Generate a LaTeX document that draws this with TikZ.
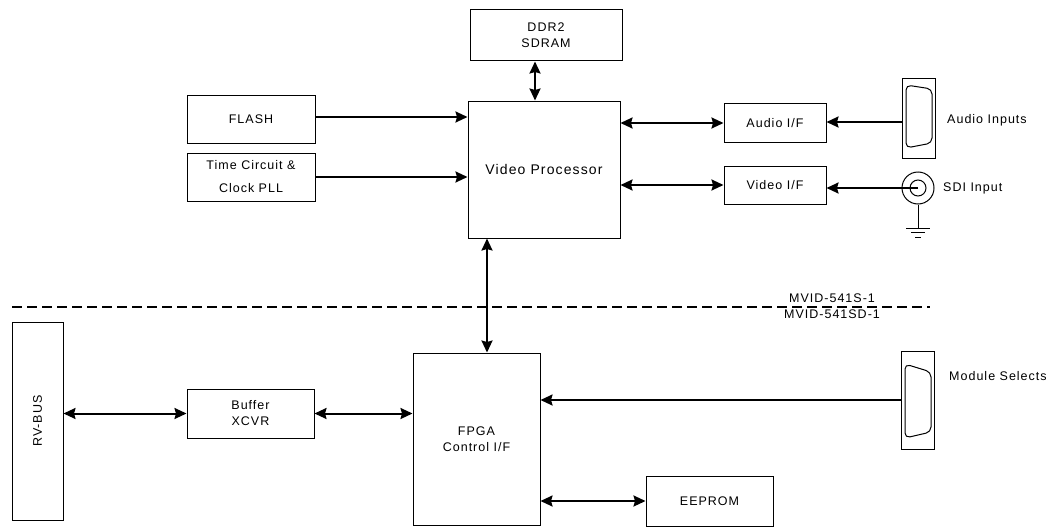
\documentclass[tikz,border=0pt]{standalone}
\usepackage{fontspec}
\setmainfont{Liberation Sans}[LetterSpace=8]
\usetikzlibrary{arrows.meta}
\tikzset{
  tip/.tip={Stealth[length=12pt,width=11pt,inset=1.5pt]},
  blk/.style={draw, line width=1pt, inner sep=0pt, align=center, font=\fontsize{12.5}{16}\selectfont},
  bi/.style={line width=2pt, tip-tip},
  uni/.style={line width=2pt, -tip},
  lbl/.style={font=\fontsize{12.5}{16}\selectfont, inner sep=0pt},
  thin/.style={line width=1pt}
}
\begin{document}
\begin{tikzpicture}[x=1pt,y=-1pt]
\useasboundingbox (0,0) rectangle (1046,527);
% boxes
\node[blk, minimum width=152pt, minimum height=51pt] (ddr) at (546,35.5) {DDR2\\SDRAM};
\node[blk, minimum width=152pt, minimum height=137pt, font=\fontsize{14}{16}\selectfont] (vp) at (544,169.5) {Video Processor};
\node[blk, minimum width=128pt, minimum height=48pt] (flash) at (251,119) {FLASH};
\node[blk, minimum width=128pt, minimum height=48pt, font=\fontsize{12.5}{23}\selectfont] (tc) at (251,177) {Time Circuit \&\\Clock PLL};
\node[blk, minimum width=102pt, minimum height=39pt] (audio) at (775,123) {Audio I/F};
\node[blk, minimum width=102pt, minimum height=38pt] (video) at (775,185) {Video I/F};
\node[blk, minimum width=127pt, minimum height=172pt] (fpga) at (476.5,439) {FPGA\\Control I/F};
\node[blk, minimum width=51pt, minimum height=198pt] (rvbus) at (37.5,421) {};
\node[lbl, rotate=90] (rvtext) at (rvbus.center) {RV-BUS};
\node[blk, minimum width=127pt, minimum height=49pt] (buffer) at (250.5,413.5) {Buffer\\XCVR};
\node[blk, minimum width=127pt, minimum height=50pt] (eeprom) at (709.5,501) {EEPROM};
% connectors (D-sub)
\node[blk, minimum width=33pt, minimum height=80pt] (audc) at (918.5,118.5) {};
\draw[thin, rounded corners=5pt] (906,85) -- (932,89) -- (932,143) -- (906,148) -- cycle;
\node[blk, minimum width=33pt, minimum height=98pt] (modc) at (917.5,400) {};
\draw[thin, rounded corners=5pt] (905,364) -- (931,372) -- (931,432) -- (905,438) -- cycle;
% SDI BNC
\node[draw, thin, circle, minimum size=32pt, inner sep=0pt] (sdi) at (918,188) {};
\node[draw, thin, circle, minimum size=16pt, inner sep=0pt] (sdiin) at (918,188) {};
\coordinate (gnd) at (918,228);
\draw[thin] (sdi.south) -- (gnd);
\draw[thin] ([xshift=-12pt]gnd) -- ([xshift=12pt]gnd);
\draw[thin] ([xshift=-7pt,yshift=-4.5pt]gnd) -- ([xshift=7pt,yshift=-4.5pt]gnd);
\draw[thin] ([xshift=-3pt,yshift=-9pt]gnd) -- ([xshift=3pt,yshift=-9pt]gnd);
% labels
\node[lbl, anchor=west] (audlbl) at (947,120) {Audio Inputs};
\node[lbl, anchor=west] (sdilbl) at (943,188) {SDI Input};
\node[lbl, anchor=west] (modlbl) at (949,376) {Module Selects};
% dashed separator
\coordinate (dashL) at (12,307);
\coordinate (dashR) at (930,307);
\draw[line width=2pt, dash pattern=on 10pt off 5pt] (dashL) -- (dashR);
\node[lbl] (mvid1) at (832,298) {MVID-541S-1};
\node[lbl] (mvid2) at (832,314) {MVID-541SD-1};
% arrows
\draw[bi] ([xshift=-11pt]ddr.south) -- ([xshift=-11pt]ddr.south |- vp.north);
\draw[uni] (flash.east |- 0,117) -- (vp.west |- 0,117);
\draw[uni] (tc.east) -- (tc.east -| vp.west);
\draw[bi] (audio.west -| vp.east) -- (audio.west);
\draw[bi] (video.west -| vp.east) -- (video.west);
\draw[uni] (audc.west |- 0,122) -- (audio.east |- 0,122);
\draw[uni] (sdiin.center) -- (video.east |- sdiin.center);
\coordinate (vf) at (487,0);
\draw[bi] (vf |- vp.south) -- (vf |- fpga.north);
\draw[bi] (buffer.west -| rvbus.east) -- (buffer.west);
\draw[bi] (buffer.east) -- (buffer.east -| fpga.west);
\draw[uni] (modc.west) -- (modc.west -| fpga.east);
\draw[bi] (eeprom.west -| fpga.east) -- (eeprom.west);
\end{tikzpicture}
\end{document}
